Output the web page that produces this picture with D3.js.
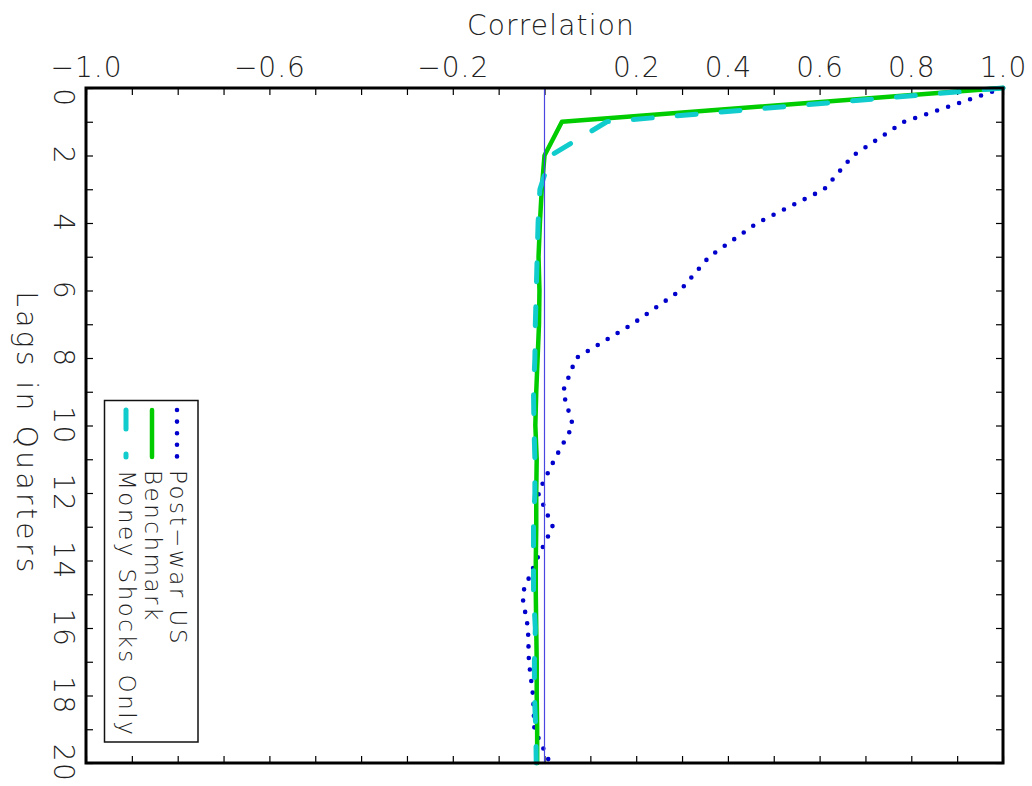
<!DOCTYPE html>
<html>
<head>
<meta charset="utf-8">
<script src="https://cdn.jsdelivr.net/npm/d3@7"></script>
<style>
  html, body { margin: 0; padding: 0; background: #fff; }
  text { font-family: "DejaVu Sans", "Liberation Sans", sans-serif; font-weight: 200; fill: #222; }
</style>
</head>
<body>
<svg id="chart" width="1032" height="786"></svg>
<script>
// ---- data ----
const lags = [0,1,2,3,4,5,6,7,8,9,10,11,12,13,14,15,16,17,18,19,20];
const postWarUS = [1.0,0.784,0.673,0.61,0.464,0.359,0.296,0.191,0.069,0.040,0.062,0.022,-0.014,0.018,-0.018,-0.049,-0.036,-0.034,-0.025,-0.022,0.012];
const benchmark = [1.0,0.038,0.0,-0.006,-0.010,-0.013,-0.011,-0.012,-0.015,-0.018,-0.020,-0.017,-0.018,-0.018,-0.019,-0.019,-0.018,-0.017,-0.017,-0.016,-0.016];
const moneyShocksOnly = [1.0,0.136,0.014,-0.010,-0.014,-0.016,-0.018,-0.020,-0.021,-0.024,-0.023,-0.021,-0.021,-0.024,-0.024,-0.024,-0.020,-0.022,-0.022,-0.019,-0.018];
const xTickLabels = [-1.0,-0.6,-0.2,0.2,0.4,0.6,0.8,1.0];
const xMinorTicks = d3.range(-10, 11).map(i => i / 10);
const yTickLabels = [0,2,4,6,8,10,12,14,16,18,20];
const yMinorTicks = d3.range(0, 21);
const seriesNames = ["Post\u2212war US", "Benchmark", "Money Shocks Only"];

// ---- layout ----
const svg = d3.select("#chart");
const L = 86, R = 1003, T = 88, B = 763;
const x = d3.scaleLinear().domain([-1, 1]).range([L, R]);
const y = d3.scaleLinear().domain([0, 20]).range([T, B]);

svg.append("rect").attr("width", 1032).attr("height", 786).attr("fill", "#fff");

// ticks (inward)
const tickStyle = g => { g.select(".domain").remove(); g.selectAll("line").attr("stroke", "#000").attr("stroke-width", 1.2); };
svg.append("g").attr("transform", `translate(0,${T})`)
  .call(d3.axisBottom(x).tickValues(xMinorTicks).tickSize(7).tickFormat("")).call(tickStyle);
svg.append("g").attr("transform", `translate(0,${B})`)
  .call(d3.axisTop(x).tickValues(xMinorTicks).tickSize(7).tickFormat("")).call(tickStyle);
svg.append("g").attr("transform", `translate(${L},0)`)
  .call(d3.axisRight(y).tickValues(yMinorTicks).tickSize(7).tickFormat("")).call(tickStyle);
svg.append("g").attr("transform", `translate(${R},0)`)
  .call(d3.axisLeft(y).tickValues(yMinorTicks).tickSize(7).tickFormat("")).call(tickStyle);

// x tick labels on top
const fmt = v => (v < 0 ? "\u2212" : "") + Math.abs(v).toFixed(1);
svg.append("g").attr("transform", `translate(0,${T})`)
  .call(d3.axisTop(x).tickValues(xTickLabels).tickSize(0).tickPadding(11).tickFormat(fmt))
  .call(g => {
    g.select(".domain").remove();
    g.selectAll("text").attr("font-size", 28).attr("fill", "#222")
      .style("font-family", '"DejaVu Sans", sans-serif').style("font-weight", 200)
      .attr("letter-spacing", 1);
  });

// y tick labels (rotated)
svg.append("g").selectAll("text").data(yTickLabels).join("text")
  .attr("transform", (d, i) => `translate(54,${y(d) + (i === 0 ? 10 : 0)}) rotate(90)`)
  .attr("text-anchor", "middle")
  .attr("font-size", 28).attr("letter-spacing", 1.5)
  .text(d => d);

// axis titles
svg.append("text").attr("x", 551).attr("y", 35).attr("text-anchor", "middle")
  .attr("font-size", 28).attr("letter-spacing", 1.2).text("Correlation");
svg.append("text").attr("transform", `translate(17,${(T + B) / 2 + 8}) rotate(90)`)
  .attr("text-anchor", "middle").attr("font-size", 28).attr("letter-spacing", 3.4)
  .text("Lags in Quarters");

// series
const line = vals => d3.line().x((d, i) => x(vals[i])).y(d => y(d))(lags);
const styles = [
  { vals: postWarUS, color: "#0000cc", width: 4.6, dash: "0 11.6" },
  { vals: benchmark, color: "#00cc00", width: 4.5, dash: null },
  { vals: moneyShocksOnly, color: "#11cccc", width: 5, dash: "19 25" }
];
styles.forEach(s => {
  svg.append("path").attr("d", line(s.vals)).attr("fill", "none")
    .attr("stroke", s.color).attr("stroke-width", s.width)
    .attr("stroke-linecap", "round").attr("stroke-linejoin", "round")
    .attr("stroke-dasharray", s.dash);
});

// zero line
svg.append("line").attr("x1", x(0)).attr("x2", x(0)).attr("y1", T).attr("y2", B)
  .attr("stroke", "#4848e0").attr("stroke-width", 1.2);

// frame
svg.append("rect").attr("x", L).attr("y", T).attr("width", R - L).attr("height", B - T)
  .attr("fill", "none").attr("stroke", "#000").attr("stroke-width", 3);

// legend (rotated layout)
const lg = svg.append("g");
lg.append("rect").attr("x", 104.5).attr("y", 400.5).attr("width", 93.5).attr("height", 341.5)
  .attr("fill", "#fff").attr("stroke", "#111").attr("stroke-width", 1.5);
const legendX = [177, 152, 126];
styles.forEach((s, i) => {
  lg.append("line").attr("x1", legendX[i]).attr("x2", legendX[i]).attr("y1", 410).attr("y2", 457)
    .attr("stroke", s.color).attr("stroke-width", s.width)
    .attr("stroke-linecap", "round").attr("stroke-dasharray", s.dash);
  lg.append("text").attr("transform", `translate(${legendX[i] - 7},470) rotate(90)`)
    .attr("font-size", 23).attr("letter-spacing", 2.5).text(seriesNames[i]);
});
</script>
</body>
</html>
